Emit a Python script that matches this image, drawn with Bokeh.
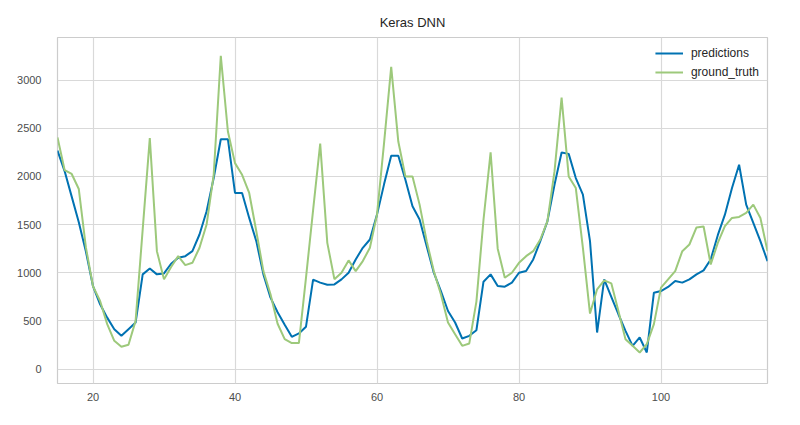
from bokeh.plotting import figure
from bokeh.models import ColumnDataSource, FixedTicker, Range1d, Legend, LegendItem
from bokeh.embed import file_html
from bokeh.resources import INLINE

title_text = "Keras DNN"
x_start = 15
predictions = [2267, 2055, 1790, 1525, 1220, 860, 672, 534, 414, 345,
               414, 483, 983, 1045, 983, 993, 1093, 1155, 1172, 1224,
               1397, 1638, 1983, 2386, 2386, 1828, 1828, 1569, 1328, 983,
               741, 590, 460, 335, 370, 440, 928, 897, 875, 879,
               931, 1000, 1138, 1259, 1345, 1603, 1920, 2214, 2214, 1966,
               1690, 1552, 1276, 1000, 810, 603, 483, 317, 345, 403,
               907, 983, 862, 855, 897, 1000, 1017, 1138, 1328, 1534,
               1914, 2248, 2234, 1983, 1810, 1328, 379, 931, 750, 569,
               397, 241, 328, 172, 793, 810, 852, 914, 897, 931,
               983, 1024, 1138, 1390, 1603, 1879, 2121, 1707, 1517, 1328,
               1121]
ground_truth = [2405, 2066, 2025, 1869, 1263, 860, 707, 466, 293, 231,
                252, 500, 1450, 2397, 1224, 931, 1060, 1172, 1079, 1103,
                1259, 1500, 2017, 3252, 2466, 2138, 2017, 1828, 1431, 1017,
                776, 470, 310, 270, 270, 950, 1650, 2340, 1310, 933,
                1000, 1128, 1017, 1121, 1259, 1603, 2350, 3138, 2362, 2000,
                2000, 1707, 1328, 1017, 776, 483, 362, 241, 266, 700,
                1550, 2250, 1250, 948, 1000, 1103, 1172, 1224, 1345, 1534,
                2052, 2817, 2000, 1879, 1259, 576, 828, 921, 890, 603,
                310, 241, 172, 259, 466, 845, 931, 1017, 1224, 1293,
                1470, 1480, 1086, 1310, 1483, 1569, 1579, 1621, 1707, 1569,
                1224]
x_ticks = [20, 40, 60, 80, 100]
y_ticks = [0, 500, 1000, 1500, 2000, 2500, 3000]
series_names = ["predictions", "ground_truth"]

x = list(range(x_start, x_start + len(predictions)))
src = ColumnDataSource(dict(x=x, pred=predictions, gt=ground_truth))

FONT = "Liberation Sans"
p = figure(width=784, height=409, output_backend="svg", toolbar_location=None,
           x_range=Range1d(15, 115), y_range=Range1d(-150, 3442),
           min_border_left=57, min_border_right=17, min_border_top=37, min_border_bottom=26,
           title=title_text)
p.title.align = "center"
p.title.text_font = FONT
p.title.text_font_size = "13px"
p.title.text_font_style = "normal"
p.title.text_color = "#262626"
p.title.standoff = 15

p.outline_line_color = "#cccccc"
p.outline_line_width = 1.2
p.background_fill_color = "white"
p.border_fill_color = "white"

for ax in (p.xaxis[0], p.yaxis[0]):
    ax.axis_line_color = None
    ax.major_tick_line_color = None
    ax.minor_tick_line_color = None
    ax.major_label_text_font = FONT
    ax.major_label_text_font_size = "11px"
    ax.major_label_text_color = "#4d4d4d"
p.xaxis.ticker = FixedTicker(ticks=x_ticks)
p.yaxis.ticker = FixedTicker(ticks=y_ticks)
p.xaxis.major_label_standoff = 3
p.yaxis.major_label_standoff = 10

p.grid.grid_line_color = "#d9d9d9"
p.grid.grid_line_width = 1.2
p.xgrid.ticker = FixedTicker(ticks=x_ticks)
p.ygrid.ticker = FixedTicker(ticks=y_ticks)

r1 = p.line("x", "pred", source=src, line_color="#0072B2", line_width=2)
r2 = p.line("x", "gt", source=src, line_color="#9dc97b", line_width=2)

legend = Legend(items=[LegendItem(label=series_names[0], renderers=[r1]),
                       LegendItem(label=series_names[1], renderers=[r2])],
                location="top_right")
legend.border_line_alpha = 0
legend.background_fill_alpha = 0
legend.label_text_font = FONT
legend.label_text_font_size = "12px"
legend.label_text_color = "#262626"
legend.glyph_width = 28
legend.glyph_height = 16
legend.label_height = 16
legend.spacing = 3
legend.margin = 3
legend.padding = 5
legend.label_standoff = 8
p.add_layout(legend)

open("out.html", "w").write(file_html(p, INLINE))
